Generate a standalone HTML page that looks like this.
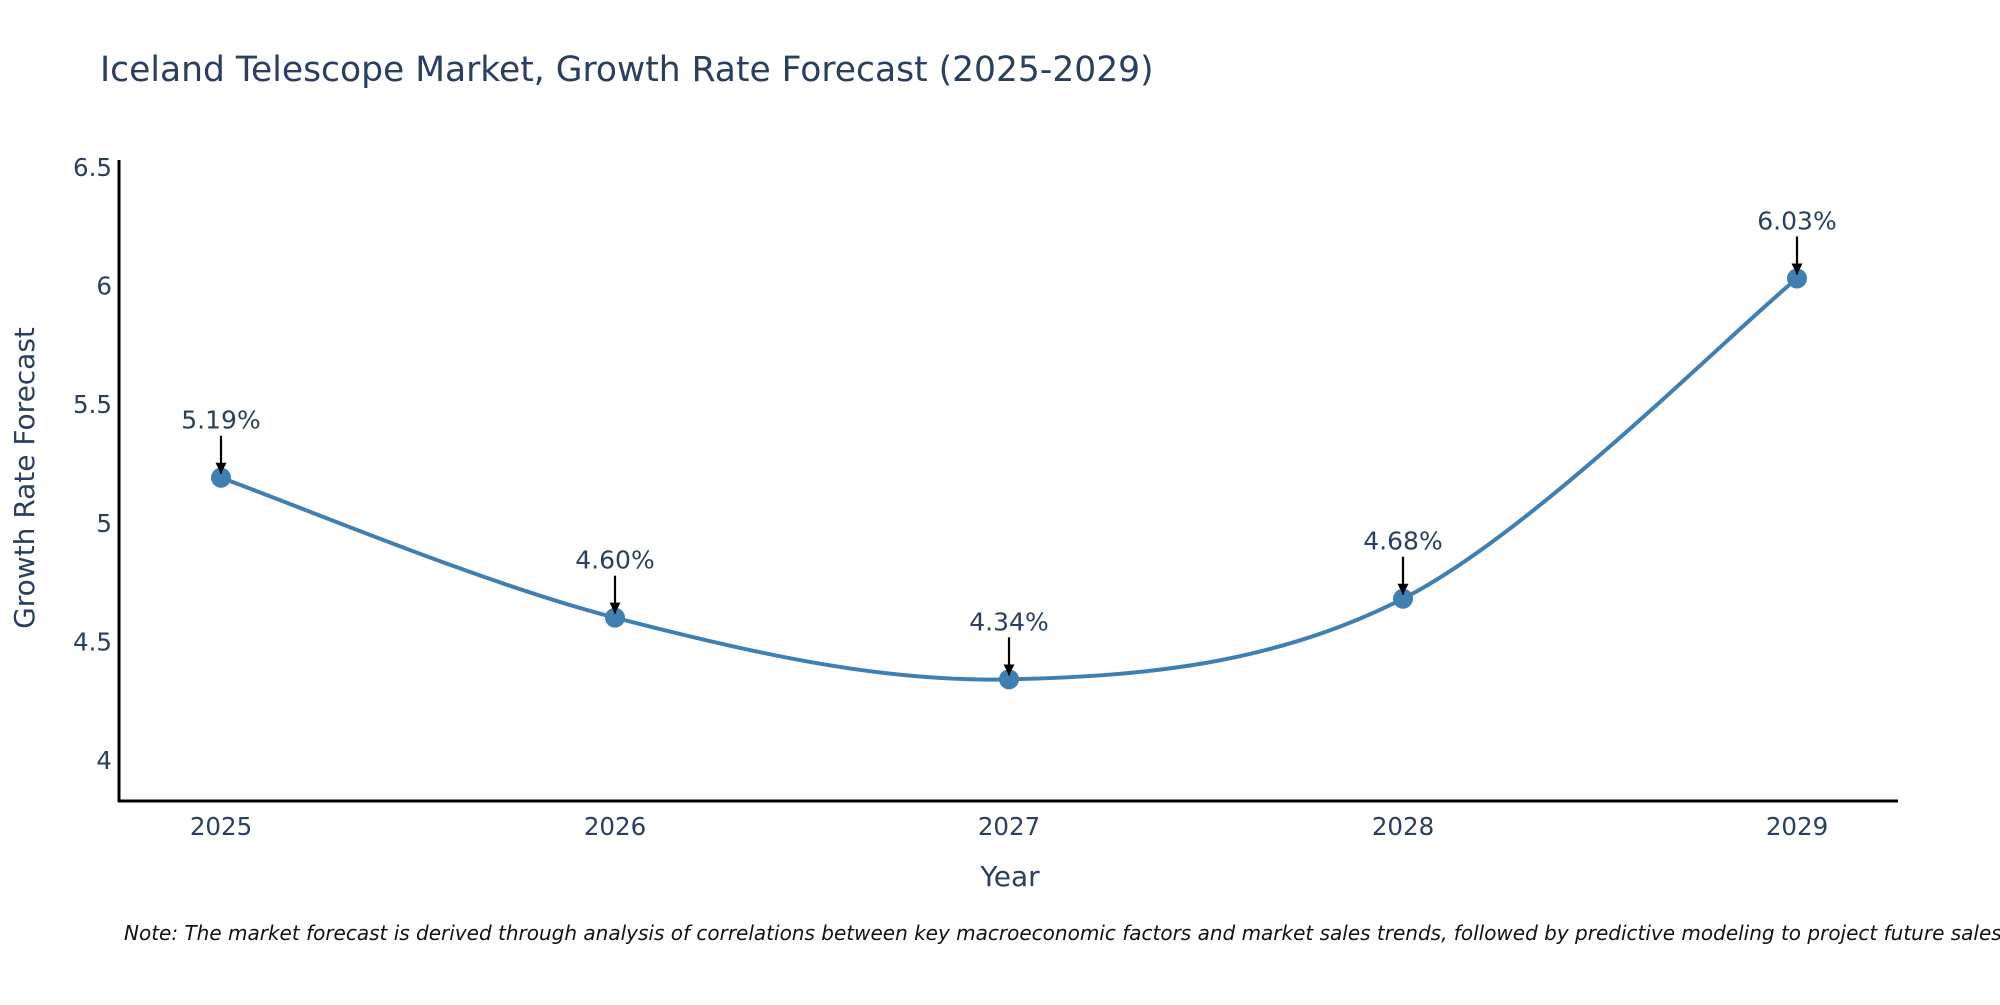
<!DOCTYPE html>
<html><head><meta charset="utf-8"><style>
body{margin:0;background:#fff;width:2000px;height:1000px;overflow:hidden;font-family:"Liberation Sans","DejaVu Sans",sans-serif;}
text{font-family:"DejaVu Sans","Liberation Sans",sans-serif;fill:#2a3f5f;}
</style></head><body>
<svg id="chart" width="2000" height="1000">
<defs><marker id="ah" viewBox="0 0 10 10" refX="10" refY="5" markerWidth="5" markerHeight="5" orient="auto"><path d="M0,0 L10,5 L0,10 z" fill="#000"/></marker></defs>
<text x="100" y="81" font-size="34.5">Iceland Telescope Market, Growth Rate Forecast (2025-2029)</text>
<g id="yticks"></g>
<g id="xticks"></g>
<line x1="119" y1="160" x2="119" y2="802" stroke="#000" stroke-width="3"/>
<line x1="118" y1="801" x2="1898" y2="801" stroke="#000" stroke-width="3"/>
<text transform="translate(34,478) rotate(-90)" text-anchor="middle" font-size="28">Growth Rate Forecast</text>
<text x="1010" y="886" text-anchor="middle" font-size="28">Year</text>
<g id="series"></g>
<text x="124" y="940" font-size="20" font-style="italic" style="fill:#111">Note: The market forecast is derived through analysis of correlations between key macroeconomic factors and market sales trends, followed by predictive modeling to project future sales.</text>
</svg>
<script>
const years=[2025,2026,2027,2028,2029];
const values=[5.19,4.60,4.34,4.68,6.03];
const labels=["5.19%","4.60%","4.34%","4.68%","6.03%"];
const yTicks=[4,4.5,5,5.5,6,6.5];
const yTickLabels=["4","4.5","5","5.5","6","6.5"];
const NS="http://www.w3.org/2000/svg";
function xs(v){return 221+(v-2025)*(1797-221)/4;}
function ys(v){return 760-(v-4)*(760-167)/2.5;}
function mk(t,a,p){const e=document.createElementNS(NS,t);for(const k in a)e.setAttribute(k,a[k]);p.appendChild(e);return e;}
const yg=document.getElementById('yticks');
yTicks.forEach((t,i)=>{const e=mk('text',{x:112,y:ys(t)+9,'text-anchor':'end','font-size':24.5},yg);e.textContent=yTickLabels[i];

});
const xg=document.getElementById('xticks');
years.forEach(y=>{const e=mk('text',{x:xs(y),y:835,'text-anchor':'middle','font-size':24.5},xg);e.textContent=String(y);

});
const sg=document.getElementById('series');
const P=years.map((y,i)=>[xs(y),ys(values[i])]);
let d='M'+P[0][0]+','+P[0][1];
for(let i=0;i<P.length-1;i++){const p0=P[Math.max(0,i-1)],p1=P[i],p2=P[i+1],p3=P[Math.min(P.length-1,i+2)];const s=1/6;
d+=' C'+(p1[0]+(p2[0]-p0[0])*s)+','+(p1[1]+(p2[1]-p0[1])*s)+' '+(p2[0]-(p3[0]-p1[0])*s)+','+(p2[1]-(p3[1]-p1[1])*s)+' '+p2[0]+','+p2[1];}
const ln=mk('path',{d:d,fill:'none',stroke:'#3f7fb2','stroke-width':4},sg);


P.forEach((p,i)=>{const c=mk('circle',{cx:p[0],cy:p[1],r:10,fill:'#3f7fb2'},sg);


const a=mk('line',{x1:p[0],y1:p[1]-42,x2:p[0],y2:p[1]-4,stroke:'#000','stroke-width':2.2,'marker-end':'url(#ah)'},sg);


const t=mk('text',{x:p[0],y:p[1]-49,'text-anchor':'middle','font-size':25},sg);t.textContent=labels[i];

});
</script>
</body></html>
